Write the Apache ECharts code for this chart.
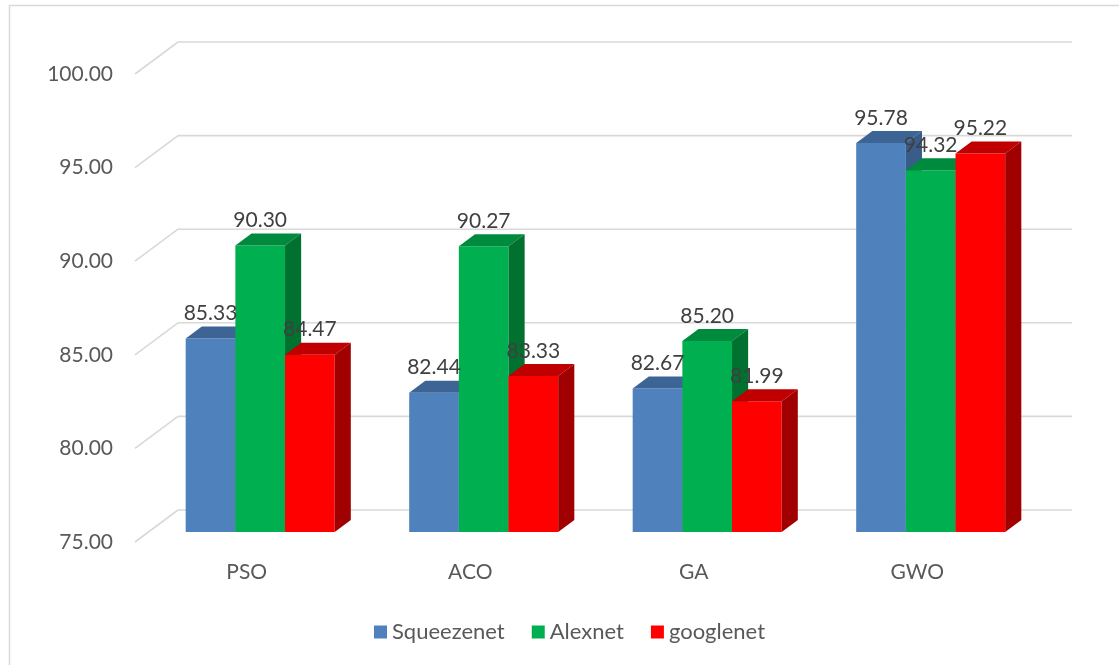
<!DOCTYPE html>
<html>
<head>
<meta charset="utf-8">
<title>Accuracy by optimizer</title>
<script src="https://cdn.jsdelivr.net/npm/echarts@6/dist/echarts.min.js"></script>
<style>
  html, body { margin: 0; padding: 0; background: #ffffff; }
  #chart { width: 1119px; height: 665px; }
</style>
</head>
<body>
<div id="chart"></div>
<script>
// Data
const CATEGORIES = ['PSO', 'ACO', 'GA', 'GWO'];
const SERIES_NAMES = ['Squeezenet', 'Alexnet', 'googlenet'];
const SQUEEZENET = [85.33, 82.44, 82.67, 95.78];
const ALEXNET = [90.30, 90.27, 85.20, 94.32];
const GOOGLENET = [84.47, 83.33, 81.99, 95.22];
const Y_TICKS = [75, 80, 85, 90, 95, 100];

// Styling
const Y_MIN = 75, Y_MAX = 100, Y_STEP = 5;
const FACE = ['#4f81bd', '#00b050', '#ff0000'];
const TOP = ['#3c6595', '#008a3e', '#c00000'];
const SIDE = ['#385d8a', '#00712f', '#a00000'];
const FONT = 'Lato, "Open Sans", sans-serif';

// Oblique depth of the plot box (x to the right, y upward)
const DX = 43, DY = 32;
// Bars occupy the middle slice of the depth
const F0 = 0.3125, F1 = 0.6875;
const GAP_RATIO = 1.5; // gap between groups, in bar widths

const VALUES = [SQUEEZENET, ALEXNET, GOOGLENET];

function barGeom(api, sIdx) {
  const cat = api.value(0), v = api.value(1);
  const top = api.coord([cat, v]);
  const base = api.coord([cat, Y_MIN]);
  const catW = api.size([1, 0])[0];
  const w = catW / (VALUES.length + GAP_RATIO);
  const xl = top[0] - (VALUES.length / 2) * w + sIdx * w + DX * F0;
  const yt = top[1] - DY * F0;
  const yb = base[1] - DY * F0;
  return { xl, yt, yb, w, dx: DX * (F1 - F0), dy: DY * (F1 - F0) };
}

function makeBarRenderer(sIdx) {
  return function (params, api) {
    const g = barGeom(api, sIdx);
    const { xl, yt, yb, w, dx, dy } = g;
    return {
      type: 'group',
      children: [
        { type: 'rect', shape: { x: xl, y: yt, width: w, height: yb - yt },
          style: { fill: FACE[sIdx] } },
        { type: 'polygon', shape: { points: [[xl, yt], [xl + w, yt], [xl + w + dx, yt - dy], [xl + dx, yt - dy]] },
          style: { fill: TOP[sIdx] } },
        { type: 'polygon', shape: { points: [[xl + w, yt], [xl + w + dx, yt - dy], [xl + w + dx, yb - dy], [xl + w, yb]] },
          style: { fill: SIDE[sIdx] } }
      ]
    };
  };
}

function makeLabelRenderer(sIdx) {
  return function (params, api) {
    const g = barGeom(api, sIdx);
    return {
      type: 'text',
      style: {
        x: g.xl + g.w / 2,
        y: g.yt - 25,
        text: api.value(1).toFixed(2),
        fill: '#404040',
        font: '21px ' + FONT,
        align: 'center',
        verticalAlign: 'middle'
      }
    };
  };
}

// Back wall gridlines with their diagonal runs along the left side wall
function renderGrid(params, api) {
  const cs = params.coordSys;
  const y = api.coord([0, api.value(1)])[1];
  return {
    type: 'group',
    children: [
      { type: 'line', shape: { x1: cs.x, y1: y, x2: cs.x + DX, y2: y - DY },
        style: { stroke: '#d9d9d9', lineWidth: 1.6 } },
      { type: 'line', shape: { x1: cs.x + DX, y1: y - DY, x2: cs.x + cs.width + DX, y2: y - DY },
        style: { stroke: '#d9d9d9', lineWidth: 1.6 } }
    ]
  };
}

const series = [{
  type: 'custom',
  name: 'grid',
  renderItem: renderGrid,
  data: Y_TICKS.map(t => [0, t]),
  encode: { x: 0, y: 1 },
  clip: false,
  silent: true,
  z: 1
}];

VALUES.forEach((vals, i) => {
  series.push({
    type: 'custom',
    name: SERIES_NAMES[i],
    renderItem: makeBarRenderer(i),
    data: vals.map((v, k) => [k, v]),
    encode: { x: 0, y: 1 },
    itemStyle: { color: FACE[i] },
    clip: false,
    z: 2
  });
});
// Value labels sit above every bar
VALUES.forEach((vals, i) => {
  series.push({
    type: 'custom',
    name: SERIES_NAMES[i] + ' value',
    renderItem: makeLabelRenderer(i),
    data: vals.map((v, k) => [k, v]),
    encode: { x: 0, y: 1 },
    clip: false,
    silent: true,
    z: 3
  });
});

const chart = echarts.init(document.getElementById('chart'), null, { renderer: 'canvas' });
chart.setOption({
  animation: false,
  backgroundColor: '#ffffff',
  graphic: [{
    type: 'rect',
    shape: { x: 9.5, y: 5.5, width: 1200, height: 700 },
    style: { fill: 'none', stroke: '#d9d9d9', lineWidth: 1.5 },
    silent: true
  }],
  grid: { left: 135, top: 74, width: 894, height: 468 },
  xAxis: {
    type: 'category',
    data: CATEGORIES,
    axisLine: { show: false },
    axisTick: { show: false },
    splitLine: { show: false },
    axisLabel: { color: '#595959', fontSize: 21, fontFamily: FONT, margin: 20 }
  },
  yAxis: {
    type: 'value',
    min: Y_MIN, max: Y_MAX, interval: Y_STEP,
    axisLine: { show: false },
    axisTick: { show: false },
    splitLine: { show: false },
    axisLabel: {
      color: '#595959', fontSize: 21, fontFamily: FONT, margin: 22,
      formatter: v => v.toFixed(2)
    }
  },
  legend: {
    data: SERIES_NAMES,
    left: 374,
    top: 621,
    itemWidth: 13,
    itemHeight: 13,
    itemGap: 27,
    icon: 'rect',
    padding: 0,
    textStyle: { color: '#595959', fontSize: 22, fontFamily: FONT }
  },
  series: series
});
</script>
</body>
</html>
